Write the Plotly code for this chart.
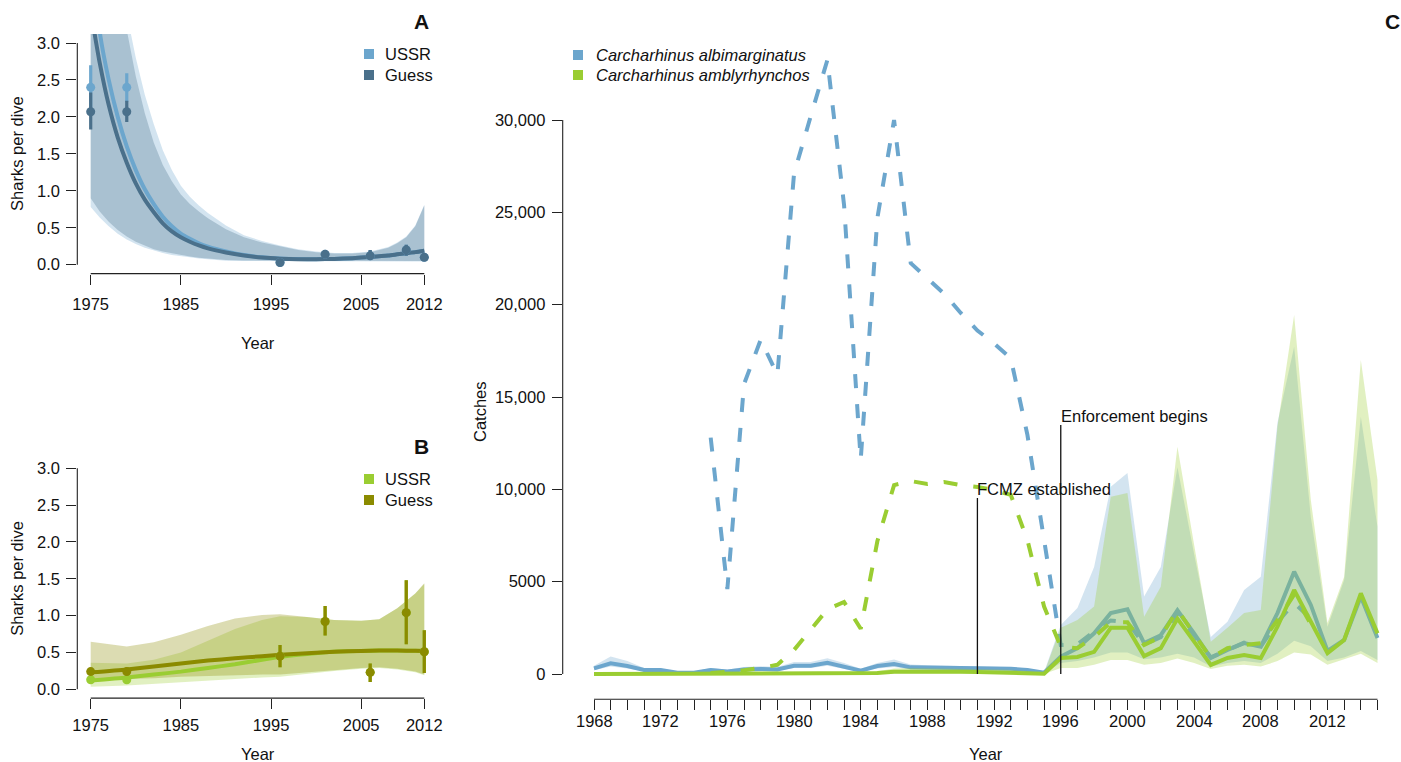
import plotly.graph_objects as go

W, H = 1401, 762
FONT = "Liberation Sans, Arial, Helvetica, sans-serif"
FS = 16.5
TXT = "#111111"
AX = "#222222"

SKY3 = "#6CA6CD"
SKY4 = "#4A708B"
OLI3 = "#9ACD32"
YEL4 = "#8B8B00"

# ------------------------------------------------------------------ data
# Panel A (Carcharhinus albimarginatus, sharks per dive)
a_years = [1975, 1979, 1996, 2001, 2006, 2010, 2012]
a_ussr = [2.40, 2.40, 0.03, 0.14, 0.12, 0.20, 0.10]
a_ussr_lo = [2.10, 2.20, 0.01, 0.11, 0.07, 0.12, 0.06]
a_ussr_hi = [2.70, 2.59, 0.05, 0.17, 0.20, 0.27, 0.14]
a_guess = [2.07, 2.07, 0.03, 0.14, 0.12, 0.20, 0.10]
a_guess_lo = [1.83, 1.93, 0.01, 0.11, 0.07, 0.12, 0.06]
a_guess_hi = [2.33, 2.22, 0.05, 0.17, 0.20, 0.27, 0.14]

a_fit_years = [1975, 1976, 1977, 1978, 1979, 1980, 1981, 1982, 1983, 1984, 1985, 1986, 1987, 1988,
               1990, 1992, 1994, 1996, 1998, 2000, 2002, 2004, 2006, 2008, 2009, 2010, 2011, 2012]
a_fit_guess = [3.44, 2.73, 2.16, 1.72, 1.38, 1.10, 0.88, 0.71, 0.56, 0.45, 0.37, 0.31, 0.26, 0.22,
               0.165, 0.125, 0.097, 0.082, 0.075, 0.074, 0.078, 0.088, 0.105, 0.125, 0.14, 0.155, 0.17, 0.19]
a_fit_ussr = [4.30, 3.15, 2.50, 2.00, 1.60, 1.28, 1.02, 0.82, 0.65, 0.52, 0.42, 0.35, 0.29, 0.245,
              0.18, 0.13, 0.10, 0.083, 0.076, 0.075, 0.078, 0.088, 0.105, 0.125, 0.14, 0.155, 0.17, 0.19]
a_band_guess_hi = [9.0, 6.5, 4.8, 3.8, 3.15, 2.55, 2.05, 1.65, 1.35, 1.13, 0.95, 0.82, 0.72, 0.63,
                   0.48, 0.37, 0.30, 0.25, 0.20, 0.17, 0.15, 0.15, 0.17, 0.23, 0.29, 0.37, 0.52, 0.80]
a_band_guess_lo = [0.90, 0.72, 0.58, 0.47, 0.38, 0.31, 0.26, 0.21, 0.18, 0.15, 0.13, 0.11, 0.095, 0.08,
                   0.065, 0.058, 0.053, 0.05, 0.05, 0.05, 0.05, 0.05, 0.05, 0.05, 0.05, 0.05, 0.05, 0.05]
a_band_ussr_hi = [12.0, 8.0, 5.8, 4.3, 3.4, 2.8, 2.3, 1.9, 1.55, 1.28, 1.07, 0.92, 0.80, 0.70,
                  0.53, 0.40, 0.32, 0.26, 0.21, 0.18, 0.16, 0.16, 0.18, 0.24, 0.30, 0.38, 0.53, 0.81]
a_band_ussr_lo = [0.78, 0.64, 0.52, 0.42, 0.34, 0.28, 0.23, 0.19, 0.16, 0.13, 0.115, 0.10, 0.085, 0.07,
                  0.055, 0.05, 0.046, 0.044, 0.043, 0.043, 0.043, 0.043, 0.043, 0.043, 0.043, 0.043, 0.043, 0.043]

# Panel B (Carcharhinus amblyrhynchos, sharks per dive)
b_years = [1975, 1979, 1996, 2001, 2006, 2010, 2012]
b_ussr = [0.13, 0.13, 0.45, 0.92, 0.23, 1.04, 0.51]
b_ussr_lo = [0.13, 0.13, 0.30, 0.73, 0.10, 0.61, 0.22]
b_ussr_hi = [0.13, 0.13, 0.60, 1.13, 0.35, 1.48, 0.80]
b_guess = [0.24, 0.24, 0.45, 0.92, 0.23, 1.04, 0.51]
b_guess_lo = [0.22, 0.19, 0.30, 0.73, 0.10, 0.61, 0.22]
b_guess_hi = [0.26, 0.29, 0.60, 1.13, 0.35, 1.48, 0.80]

b_fit_years = [1975, 1979, 1982, 1985, 1988, 1991, 1994, 1996, 1999, 2002, 2005, 2007, 2009, 2011, 2012]
b_fit_guess = [0.23, 0.27, 0.31, 0.35, 0.39, 0.42, 0.45, 0.47, 0.49, 0.51, 0.52, 0.525, 0.525, 0.522, 0.52]
b_fit_ussr = [0.12, 0.16, 0.20, 0.24, 0.29, 0.34, 0.40, 0.44, 0.48, 0.51, 0.52, 0.525, 0.525, 0.522, 0.52]
b_band_guess_hi = [0.645, 0.58, 0.64, 0.74, 0.86, 0.96, 1.01, 1.02, 0.98, 0.94, 0.93, 0.95, 1.10, 1.30, 1.44]
b_band_guess_lo = [0.13, 0.14, 0.15, 0.17, 0.18, 0.19, 0.20, 0.20, 0.23, 0.26, 0.29, 0.30, 0.28, 0.24, 0.20]
b_band_ussr_hi = [0.36, 0.35, 0.40, 0.50, 0.66, 0.82, 0.94, 0.99, 0.98, 0.94, 0.93, 0.95, 1.10, 1.30, 1.43]
b_band_ussr_lo = [0.035, 0.05, 0.07, 0.09, 0.11, 0.14, 0.16, 0.17, 0.21, 0.25, 0.28, 0.29, 0.27, 0.23, 0.19]

# Panel C (catches)
c_years = list(range(1968, 2016))
alb_catch = [300, 580, 430, 220, 220, 70, 70, 220, 130, 250, 270, 250, 450, 450, 610, 400, 180, 430, 540, 360,
             350, 340, 320, 300, 290, 280, 220, 70,
             940, 1400, 2200, 3300, 3500, 1670, 2100, 3450, 2200, 870, 1300, 1670, 1480, 3300, 5540, 3740,
             1250, 1840, 4200, 1950]
alb_hi = [450, 950, 700, 330, 300, 130, 130, 330, 230, 380, 420, 380, 650, 650, 850, 600, 280, 600, 780, 520,
          470, 450, 430, 400, 390, 370, 300, 110,
          2650, 3570, 5800, 10140, 10880, 4200, 5800, 11200, 6500, 2000, 2830, 4550, 5270, 13600, 17720, 8500,
          2560, 5090, 13930, 7970]
alb_lo = [200, 400, 300, 150, 150, 30, 30, 150, 80, 170, 180, 170, 330, 330, 450, 280, 110, 300, 380, 250,
          250, 240, 230, 210, 200, 190, 150, 40,
          590, 700, 900, 1160, 1160, 800, 900, 1100, 900, 400, 600, 700, 600, 1100, 1800, 1500,
          700, 900, 1250, 760]
amb_catch = [0, 0, 0, 0, 0, 0, 0, 0, 0, 0, 0, 0, 0, 0, 0, 0, 0, 50, 120, 130,
             130, 130, 120, 110, 100, 90, 60, 20,
             870, 920, 1200, 2500, 2500, 970, 1400, 3000, 1750, 490, 870, 1030, 870, 2560, 4550, 2830,
             1130, 1840, 4370, 2200]
amb_hi = [30, 30, 30, 30, 30, 30, 30, 30, 30, 30, 30, 30, 30, 30, 30, 30, 30, 150, 300, 330,
          330, 310, 290, 270, 250, 230, 160, 60,
          2500, 2920, 3650, 9600, 9800, 3100, 4730, 12300, 7000, 1750, 2500, 3300, 3470, 13400, 19440, 9420,
          2760, 5270, 17000, 10500]
amb_lo = [0, 0, 0, 0, 0, 0, 0, 0, 0, 0, 0, 0, 0, 0, 0, 0, 0, 10, 40, 50,
          50, 50, 45, 40, 35, 30, 20, 0,
          320, 330, 500, 760, 760, 500, 600, 840, 600, 270, 450, 500, 400, 700, 1160, 1050,
          500, 800, 1100, 600]

recon_years = list(range(1975, 2012))
alb_recon = [12800, 4600, 15700, 18100, 16200, 27100, 30200, 33250, 25400, 11600, 24700, 30000, 22250,
             21400, 20600, 19550, 18600, 17900, 17100, 12950, 7250, 1570, 1600, 2300, 2900, 2800, 1600,
             2000, 3300, 2100, 900, 1300, 1700, 1500, 2800, 3850, 3000]
amb_recon = [50, 100, 200, 330, 500, 1300, 2400, 3500, 3900, 2450, 7200, 10230, 10450, 10290, 10400,
             10230, 10130, 9960, 9700, 7250, 3650, 1480, 1400, 2000, 2800, 2800, 1570, 2020, 3470, 2200,
             870, 1400, 1570, 1670, 2920, 4300, 2700]

event_years = [1991, 1996]
event_tops = [9530, 13480]
event_labels = ["FCMZ established", "Enforcement begins"]

a_xticks = [1975, 1985, 1995, 2005, 2012]
ab_yticks = [0, 0.5, 1.0, 1.5, 2.0, 2.5, 3.0]
c_yticks = [0, 5000, 10000, 15000, 20000, 25000, 30000]
c_yticklabels = ["0", "5000", "10,000", "15,000", "20,000", "25,000", "30,000"]
c_xlabel_years = [1968, 1972, 1976, 1980, 1984, 1988, 1992, 1996, 2000, 2004, 2008, 2012]


# ------------------------------------------------------------------ helpers
def rgba(hexc, a):
    h = hexc.lstrip("#")
    r, g, b = int(h[0:2], 16), int(h[2:4], 16), int(h[4:6], 16)
    return f"rgba({r},{g},{b},{a})"


def xd(p0, p1):
    return [p0 / W, min(p1 / W, 1.0)]


def yd(top, bot):
    return [1 - bot / H, 1 - top / H]


def px(x):
    return x / W


def py(y):
    return 1 - y / H


fig = go.Figure()


def band(x, lo, hi, color, xa, ya):
    fig.add_trace(go.Scatter(x=list(x) + list(x)[::-1], y=list(hi) + list(lo)[::-1],
                             fill="toself", fillcolor=color, line=dict(width=0), mode="lines",
                             hoverinfo="skip", showlegend=False, xaxis=xa, yaxis=ya))


def curve(x, y, color, xa, ya, width=4, dash=None, shape="spline"):
    fig.add_trace(go.Scatter(x=x, y=y, mode="lines",
                             line=dict(color=color, width=width, dash=dash, shape=shape, smoothing=0.6),
                             hoverinfo="skip", showlegend=False, xaxis=xa, yaxis=ya))


def points(x, y, lo, hi, color, xa, ya):
    fig.add_trace(go.Scatter(x=x, y=y, mode="markers", marker=dict(color=color, size=9),
                             error_y=dict(type="data", symmetric=False,
                                          array=[h - v for h, v in zip(hi, y)],
                                          arrayminus=[v - l for v, l in zip(y, lo)],
                                          color=color, thickness=3.2, width=0),
                             cliponaxis=False, hoverinfo="skip", showlegend=False, xaxis=xa, yaxis=ya))


# Panel A
band(a_fit_years, a_band_ussr_lo, a_band_ussr_hi, rgba(SKY3, 0.3), "x", "y")
band(a_fit_years, a_band_guess_lo, a_band_guess_hi, rgba(SKY4, 0.3), "x", "y")
curve(a_fit_years, a_fit_ussr, SKY3, "x", "y")
curve(a_fit_years, a_fit_guess, SKY4, "x", "y")
points(a_years, a_ussr, a_ussr_lo, a_ussr_hi, SKY3, "x", "y")
points(a_years, a_guess, a_guess_lo, a_guess_hi, SKY4, "x", "y")

# Panel B
band(b_fit_years, b_band_ussr_lo, b_band_ussr_hi, rgba(OLI3, 0.3), "x2", "y2")
band(b_fit_years, b_band_guess_lo, b_band_guess_hi, rgba(YEL4, 0.3), "x2", "y2")
curve(b_fit_years, b_fit_ussr, OLI3, "x2", "y2")
curve(b_fit_years, b_fit_guess, YEL4, "x2", "y2")
points(b_years, b_ussr, b_ussr_lo, b_ussr_hi, OLI3, "x2", "y2")
points(b_years, b_guess, b_guess_lo, b_guess_hi, YEL4, "x2", "y2")

# Panel C
band(c_years, alb_lo, alb_hi, rgba(SKY3, 0.3), "x3", "y3")
curve(recon_years, alb_recon, SKY3, "x3", "y3", width=4, dash="14px,16px", shape="linear")
curve(c_years, alb_catch, SKY3, "x3", "y3", width=4, shape="linear")
band(c_years, amb_lo, amb_hi, rgba(OLI3, 0.3), "x3", "y3")
curve(recon_years, amb_recon, OLI3, "x3", "y3", width=4, dash="14px,16px", shape="linear")
curve(c_years, amb_catch, OLI3, "x3", "y3", width=4, shape="linear")

# ------------------------------------------------------------------ layout geometry (pixels)
A_L, A_R, A_T, A_B = 77.3, 437.7, 34.1, 273.6
A_x0, A_sx = 90.7, 9.016          # px of 1975, px per year
A_y0, A_sy = 264.7, 73.9          # px of 0, px per unit
B_T, B_B = 459.5, 698.1
B_y0, B_sy = 689.3, 73.67
C_L, C_R, C_T, C_B = 562.7, 1401.0, 35.0, 699.3
C_x0, C_sx = 594.0, 16.67         # px of 1968
C_y0, C_sy = 674.0, 554.0 / 30000  # px of 0

a_xr = [1975 - (A_x0 - A_L) / A_sx, 1975 + (A_R - A_x0) / A_sx]
a_yr = [-(A_B - A_y0) / A_sy, (A_y0 - A_T) / A_sy]
b_yr = [-(B_B - B_y0) / B_sy, (B_y0 - B_T) / B_sy]
c_xr = [1968 - (C_x0 - C_L) / C_sx, 1968 + (C_R - C_x0) / C_sx]
c_yr = [-(C_B - C_y0) / C_sy, (C_y0 - C_T) / C_sy]

tickfont = dict(family=FONT, size=FS, color=TXT)
common = dict(showgrid=False, zeroline=False, showline=False, ticks="outside", ticklen=10,
              tickwidth=1, tickcolor=AX, tickfont=tickfont, fixedrange=True, automargin=False)

fig.update_layout(
    width=W, height=H, margin=dict(l=0, r=0, t=0, b=0, autoexpand=False),
    paper_bgcolor="white", plot_bgcolor="rgba(0,0,0,0)", showlegend=False,
    font=dict(family=FONT, size=FS, color=TXT),
    xaxis=dict(domain=xd(A_L, A_R), range=a_xr, anchor="y", tickvals=a_xticks,
               ticklabelstandoff=6, **common),
    yaxis=dict(domain=yd(A_T, A_B), range=a_yr, anchor="x", tickvals=ab_yticks, tickformat=".1f",
               ticklabelstandoff=3, **common),
    xaxis2=dict(domain=xd(A_L, A_R), range=a_xr, anchor="y2", tickvals=a_xticks,
                ticklabelstandoff=2, **common),
    yaxis2=dict(domain=yd(B_T, B_B), range=b_yr, anchor="x2", tickvals=ab_yticks, tickformat=".1f",
                ticklabelstandoff=3, **common),
    xaxis3=dict(domain=xd(C_L, C_R), range=c_xr, anchor="y3", tickvals=c_years,
                ticktext=["" for _ in c_years], **common),
    yaxis3=dict(domain=yd(C_T, C_B), range=c_yr, anchor="x3", tickvals=c_yticks, ticktext=c_yticklabels,
                ticklabelstandoff=3, **common),
)

shapes = []
ann = []


def axline(xref, yref, x0, y0, x1, y1):
    shapes.append(dict(type="line", xref=xref, yref=yref, x0=x0, y0=y0, x1=x1, y1=y1,
                       line=dict(color=AX, width=1.1), layer="above"))


# R-style axis lines spanning the tick range only
axline("x", "paper", a_xticks[0], py(A_B), a_xticks[-1], py(A_B))
axline("paper", "y", px(A_L), ab_yticks[0], px(A_L), ab_yticks[-1])
axline("x2", "paper", a_xticks[0], py(B_B), a_xticks[-1], py(B_B))
axline("paper", "y2", px(A_L), ab_yticks[0], px(A_L), ab_yticks[-1])
axline("x3", "paper", c_years[0], py(C_B), c_years[-1], py(C_B))
axline("paper", "y3", px(C_L), c_yticks[0], px(C_L), c_yticks[-1])

# event lines + labels
for yr, top, lab in zip(event_years, event_tops, event_labels):
    shapes.append(dict(type="line", xref="x3", yref="y3", x0=yr, x1=yr, y0=0, y1=top,
                       line=dict(color="#111111", width=1.3), layer="above"))
    ann.append(dict(xref="x3", yref="y3", x=yr, y=top, text=lab, showarrow=False,
                    xanchor="left", yanchor="bottom", xshift=-2, yshift=-2,
                    font=dict(family=FONT, size=FS, color=TXT)))

# panel C year labels (every 4th year) close under the ticks
for yr in c_xlabel_years:
    ann.append(dict(xref="x3", yref="paper", x=yr, y=py(720.5), text=str(yr), showarrow=False,
                    xanchor="center", yanchor="middle", font=dict(family=FONT, size=FS, color=TXT)))


def text(x, y, s, size=FS, xanchor="center", yanchor="middle", angle=0, bold=False, italic=False):
    if bold:
        s = f"<b>{s}</b>"
    if italic:
        s = f"<i>{s}</i>"
    ann.append(dict(xref="paper", yref="paper", x=px(x), y=py(y), text=s, showarrow=False,
                    xanchor=xanchor, yanchor=yanchor, textangle=angle,
                    font=dict(family=FONT, size=size, color=TXT)))


def square(cx, cy, color, s=10):
    shapes.append(dict(type="rect", xref="paper", yref="paper", x0=px(cx - s / 2), x1=px(cx + s / 2),
                       y0=py(cy + s / 2), y1=py(cy - s / 2), fillcolor=color, line=dict(width=0)))


# axis titles
text(257.5, 343, "Year")
text(17, 153.9, "Sharks per dive", angle=-90)
text(257.5, 753.5, "Year")
text(17, 578.8, "Sharks per dive", angle=-90)
text(985.5, 753.5, "Year")
text(480, 411, "Catches", angle=-90)

# panel letters
text(421.7, 21.7, "A", size=21, bold=True)
text(421.7, 446.7, "B", size=21, bold=True)
text(1392, 22, "C", size=21, bold=True)

# legends
square(369, 54, SKY3)
square(369, 75, SKY4)
text(383, 54, "USSR", xanchor="left")
text(383, 75, "Guess", xanchor="left")
square(369, 479, OLI3)
square(369, 500, YEL4)
text(383, 479, "USSR", xanchor="left")
text(383, 500, "Guess", xanchor="left")
square(578, 55, SKY3)
square(578, 75, OLI3)
text(594, 55, "Carcharhinus albimarginatus", xanchor="left", italic=True)
text(594, 75, "Carcharhinus amblyrhynchos", xanchor="left", italic=True)

fig.update_layout(shapes=shapes, annotations=ann)

fig.write_html("out.html", config={"displayModeBar": False, "staticPlot": True},
               post_script="document.body.style.margin='0';document.body.style.padding='0';")
